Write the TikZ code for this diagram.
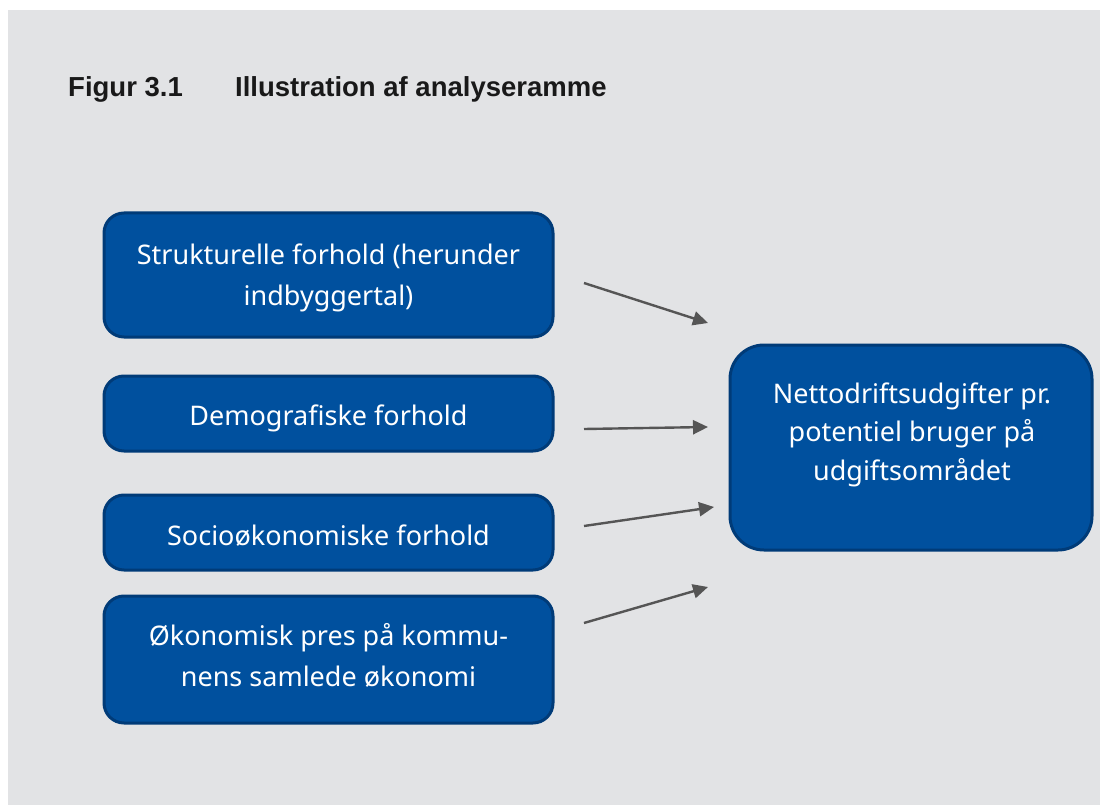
\documentclass[tikz,border=0pt]{standalone}
\usepackage{fontspec}
\setmainfont{Noto Sans}
\newfontfamily\titlefont{Liberation Sans}
\usetikzlibrary{arrows.meta}
\definecolor{bg}{HTML}{E2E3E5}
\definecolor{boxfill}{HTML}{00509E}
\definecolor{boxline}{HTML}{003B78}
\definecolor{arrowc}{HTML}{555555}
\tikzset{
  x=1pt, y=-1pt,
  blue box/.style={draw=boxline, line width=3pt, fill=boxfill, rounded corners=20pt, inner sep=0pt},
  box text/.style={text=white, align=center, anchor=base, inner sep=0pt, font=\fontsize{27}{41}\selectfont},
  conn/.style={draw=arrowc, line width=2.4pt, -{Triangle[length=15pt,width=14pt]}},
  title/.style={anchor=base west, inner sep=0pt, font=\titlefont\bfseries\fontsize{27.5}{30}\selectfont, text=black!90}
}
\begin{document}
\begin{tikzpicture}
\useasboundingbox (0,0) rectangle (1100,805);
\fill[white] (0,0) rectangle (1100,805);
\fill[bg] (8,10) rectangle (1100,805);
\node[title] (fig) at (68,97) {Figur 3.1};
\node[title] (cap) at (235,97) {Illustration af analyseramme};

\node[blue box, minimum width=449pt, minimum height=124pt] (b1) at (328.5,275) {};
\node[blue box, minimum width=449pt, minimum height=75pt] (b2) at (328.5,413.5) {};
\node[blue box, minimum width=449pt, minimum height=75pt] (b3) at (328.5,532.5) {};
\node[blue box, minimum width=449pt, minimum height=127pt] (b4) at (328.5,659.5) {};
\node[blue box, rounded corners=34pt, minimum width=362pt, minimum height=205pt] (r) at (911,447.5) {};

\node[box text] (t1) at (328.5,305) {Strukturelle forhold (herunder\\indbyggertal)};
\node[box text] (t2) at (328.5,425) {Demografiske forhold};
\node[box text] (t3) at (328.5,545) {Socioøkonomiske forhold};
\node[box text] (t4) at (328.5,686) {Økonomisk pres på kommu-\\nens samlede økonomi};
\node[box text, font=\fontsize{27}{38.5}\selectfont] (rt) at (912,480) {Nettodriftsudgifter pr.\\potentiel bruger på\\udgiftsområdet};

\coordinate (s1) at (584,283); \coordinate (e1) at (708,323);
\coordinate (s2) at (584,429); \coordinate (e2) at (708,427);
\coordinate (s3) at (584,526); \coordinate (e3) at (714,507);
\coordinate (s4) at (584,623); \coordinate (e4) at (708,587);
\draw[conn] (s1) -- (e1);
\draw[conn] (s2) -- (e2);
\draw[conn] (s3) -- (e3);
\draw[conn] (s4) -- (e4);
\end{tikzpicture}
\end{document}
